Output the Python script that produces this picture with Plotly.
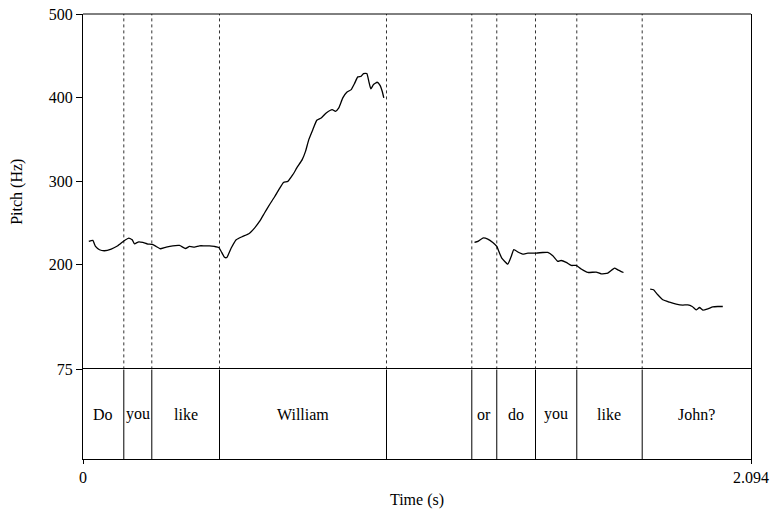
import plotly.graph_objects as go
from plotly.subplots import make_subplots

# ---- data ----
seg1_t = [0.0182, 0.0307, 0.0392, 0.0517, 0.0674, 0.0884, 0.1091, 0.1301, 0.1436, 0.1542,
          0.1614, 0.1749, 0.1875, 0.2031, 0.2169, 0.2295, 0.2420, 0.2608, 0.2815, 0.3025,
          0.3213, 0.3338, 0.3495, 0.3652, 0.3809, 0.3965, 0.4122, 0.4257, 0.4332, 0.4436,
          0.4508, 0.4646, 0.4802, 0.5009, 0.5197, 0.5376, 0.5533, 0.5690, 0.5846, 0.6003,
          0.6138, 0.6285, 0.6420, 0.6577, 0.6702, 0.6871, 0.6975, 0.7078, 0.7204, 0.7329,
          0.7467, 0.7624, 0.7812, 0.7915, 0.8019, 0.8144, 0.8269, 0.8407, 0.8511, 0.8614,
          0.8721, 0.8793, 0.8896, 0.8959, 0.9022, 0.9106, 0.9222, 0.9316, 0.9379, 0.9429]
seg1_f = [228.0, 229.2, 222.0, 218.1, 216.9, 218.9, 222.8, 229.2, 232.1, 230.0,
          225.2, 227.6, 226.8, 224.9, 224.4, 222.0, 219.3, 221.3, 222.8, 223.2,
          219.6, 222.0, 221.3, 222.8, 222.8, 222.8, 222.0, 220.8, 216.0, 209.1,
          208.8, 220.1, 230.0, 234.0, 237.2, 244.0, 251.9, 262.0, 271.9, 281.2,
          289.9, 298.6, 299.8, 307.8, 315.9, 325.8, 335.7, 349.8, 361.7, 372.9,
          375.7, 381.7, 385.7, 383.6, 387.7, 399.7, 406.4, 409.6, 416.8, 424.8,
          425.5, 428.8, 428.8, 419.5, 410.4, 415.6, 418.4, 414.4, 407.6, 399.7]

seg2_t = [1.2272, 1.2376, 1.2532, 1.2689, 1.2846, 1.2971, 1.3056, 1.3128, 1.3316, 1.3423,
          1.3504, 1.3661, 1.3786, 1.3943, 1.4206, 1.4413, 1.4570, 1.4727, 1.4884, 1.4990,
          1.5147, 1.5304, 1.5461, 1.5617, 1.5824, 1.6087, 1.6244, 1.6451, 1.6661, 1.6764,
          1.6943]
seg2_f = [226.8, 228.0, 232.1, 230.9, 226.8, 222.0, 214.1, 208.1, 200.9, 210.0,
          218.1, 214.8, 212.9, 214.1, 214.1, 214.8, 214.8, 210.9, 204.1, 205.2,
          202.9, 199.3, 199.3, 195.0, 190.9, 191.4, 189.3, 190.2, 196.2, 194.1,
          190.9]

seg3_t = [1.7780, 1.7884, 1.8018, 1.8175, 1.8385, 1.8595, 1.8802, 1.8959, 1.9097, 1.9222,
          1.9325, 1.9429, 1.9586, 1.9742, 1.9899, 2.0056]
seg3_f = [171.0, 170.2, 164.2, 158.2, 155.4, 153.1, 151.9, 152.2, 150.2, 146.2,
          149.0, 145.9, 147.4, 149.8, 150.2, 150.2]

boundaries = [0.1279, 0.2157, 0.4279, 0.9514, 1.2188, 1.2971, 1.4185, 1.5479, 1.7529]
words = ["Do", "you", "like", "William", "", "or", "do", "you", "like", "John?"]
t_end = 2.094
y_ticks = [75, 200, 300, 400, 500]

FONT = "Liberation Serif"

fig = make_subplots(rows=2, cols=1, shared_xaxes=True, vertical_spacing=0,
                    row_heights=[355, 89.5])

for ts, fs in [(seg1_t, seg1_f), (seg2_t, seg2_f), (seg3_t, seg3_f)]:
    fig.add_trace(go.Scatter(x=ts, y=fs, mode="lines",
                             line=dict(color="black", width=1.3, shape="spline", smoothing=0.4),
                             showlegend=False, hoverinfo="skip"), row=1, col=1)

# boundaries
for b in boundaries:
    fig.add_shape(type="line", x0=b, x1=b, y0=75, y1=500, xref="x", yref="y",
                  line=dict(color="#333333", width=1, dash="dot"), layer="below")
    fig.add_shape(type="line", x0=b, x1=b, y0=0, y1=1, xref="x2", yref="y2",
                  line=dict(color="black", width=1))

# top frame line
fig.add_shape(type="line", x0=0, x1=1, y0=1, y1=1, xref="paper", yref="paper",
              line=dict(color="black", width=1))

# word labels
edges = [0.0] + boundaries + [t_end]
for i, w in enumerate(words):
    if not w:
        continue
    fig.add_annotation(x=(edges[i] + edges[i + 1]) / 2, y=0.5, xref="x2", yref="y2",
                       text=w, showarrow=False, font=dict(family=FONT, size=16, color="black"))

fig.update_xaxes(range=[0, t_end], showgrid=False, zeroline=False, automargin=False)
fig.update_xaxes(showticklabels=False, ticks="", showline=False, row=1, col=1)
fig.update_xaxes(tickvals=[0, t_end], ticktext=["0", "2.094"], ticks="outside", ticklen=4,
                 tickcolor="black", tickfont=dict(family=FONT, size=16, color="black"),
                 showline=True, linecolor="black", linewidth=1, mirror=True,
                 title=dict(text="Time (s)", font=dict(family=FONT, size=16, color="black"), standoff=8),
                 row=2, col=1)

fig.update_yaxes(range=[75, 500], tickvals=y_ticks, ticks="outside", ticklen=6, tickcolor="black",
                 tickfont=dict(family=FONT, size=16, color="black"), showgrid=False, zeroline=False,
                 showline=True, linecolor="black", linewidth=1, mirror=True, automargin=False,
                 title=dict(text="Pitch (Hz)", font=dict(family=FONT, size=16, color="black"), standoff=22),
                 row=1, col=1)
fig.update_yaxes(range=[0, 1], showticklabels=False, ticks="", showgrid=False, zeroline=False,
                 showline=True, linecolor="black", linewidth=1, mirror=True, automargin=False,
                 row=2, col=1)

fig.update_layout(width=772, height=509, margin=dict(l=83, r=21, t=14, b=50),
                  plot_bgcolor="white", paper_bgcolor="white",
                  font=dict(family=FONT, color="black"),
                  template="none")

fig.write_html("out.html")
